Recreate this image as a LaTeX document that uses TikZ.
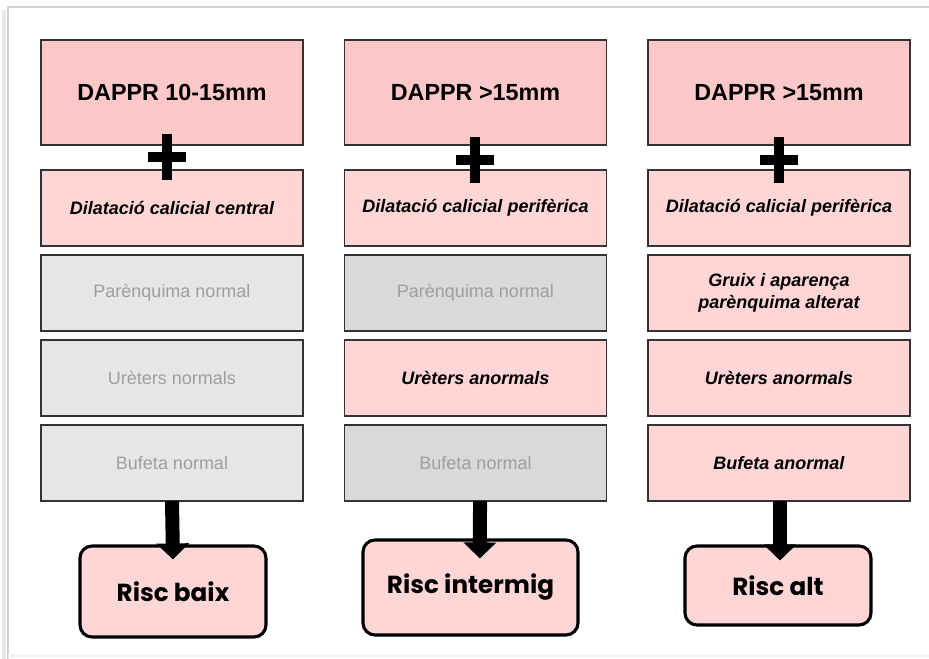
\documentclass[tikz,border=0pt]{standalone}
\usepackage{fontspec}
\setmainfont{Liberation Sans}
\newfontfamily\riscfont{Poppins}
\usetikzlibrary{positioning,arrows.meta}
\definecolor{headpink}{HTML}{FFC8C8}
\definecolor{rowpink}{HTML}{FFD6D6}
\definecolor{lightgrey}{HTML}{E6E6E6}
\definecolor{midgrey}{HTML}{D9D9D9}
\definecolor{greytext}{HTML}{9E9E9E}
\definecolor{frameline}{HTML}{D2D2D2}
\tikzset{x=0.75pt, y=-0.75pt, node distance=6.75pt,
  box/.style={draw=black!80, line width=1.1pt, outer sep=0pt, minimum width=196.5pt,
    minimum height=57pt, align=center, inner sep=2pt},
  head/.style={box, fill=headpink, minimum height=78.75pt,
    font=\bfseries\fontsize{17.5}{21}\selectfont},
  sign/.style={box, fill=rowpink, font=\bfseries\itshape\fontsize{13.5}{17}\selectfont},
  normal/.style={box, fill=lightgrey, text=greytext, font=\fontsize{13.5}{17}\selectfont},
  risc/.style={draw=black, line width=2.3pt, rounded corners=9pt, fill=rowpink,
    font=\riscfont\bfseries\fontsize{18.5}{22}\selectfont},
  plusbar/.style={line width=8pt},
  thick arrow/.style={line width=10.5pt, -{Triangle[width=24pt,length=12pt]}}}

\begin{document}
\begin{tikzpicture}
  \useasboundingbox (0,0) rectangle (929,659);
  % frame
  \draw[gray!18, line width=3pt] (4,10) -- (4,659);
  \draw[frameline, line width=1pt] (8,659) -- (8,7) -- (929,7);
  \draw[gray!12, line width=1pt] (8,656) -- (929,656);

  % column 1
  \node[head] (h1) at (172,92.5) {DAPPR 10-15mm};
  \node[sign] (d1) [below=18.75pt of h1] {Dilatació calicial central};
  \node[normal] (p1) [below=of d1] {Parènquima normal};
  \node[normal] (u1) [below=of p1] {Urèters normals};
  \node[normal] (b1) [below=of u1] {Bufeta normal};
  \node[risc, minimum width=139.5pt, minimum height=68.25pt] (r1) at (173,591.5) {Risc baix};

  % column 2
  \node[head] (h2) at (475.5,92.5) {DAPPR >15mm};
  \node[sign] (d2) [below=18.75pt of h2] {Dilatació calicial perifèrica};
  \node[normal, fill=midgrey] (p2) [below=of d2] {Parènquima normal};
  \node[sign] (u2) [below=of p2] {Urèters anormals};
  \node[normal, fill=midgrey] (b2) [below=of u2] {Bufeta normal};
  \node[risc, minimum width=161.25pt, minimum height=71.25pt] (r2) at (470.5,587.5) {Risc intermig};

  % column 3
  \node[head] (h3) at (779,92.5) {DAPPR >15mm};
  \node[sign] (d3) [below=18.75pt of h3] {Dilatació calicial perifèrica};
  \node[sign] (p3) [below=of d3] {Gruix i aparença\\parènquima alterat};
  \node[sign] (u3) [below=of p3] {Urèters anormals};
  \node[sign] (b3) [below=of u3] {Bufeta anormal};
  \node[risc, minimum width=139.5pt, minimum height=59.25pt] (r3) at (778,585.5) {Risc alt};

  % plus signs
  \coordinate (plus1) at (167,157);
  \coordinate (plus2) at (475,160);
  \coordinate (plus3) at (779,160);
  \foreach \p in {plus1,plus2,plus3}
    \draw[plusbar] ([yshift=17.6pt]\p) -- ([yshift=-17.6pt]\p)
                   ([xshift=-14.3pt]\p) -- ([xshift=14.3pt]\p);

  % arrows
  \draw[thick arrow] (b1.south) -- ([yshift=-11.25pt]r1.north);
  \draw[thick arrow] ([xshift=3.4pt]b2.south) -- ([xshift=7pt,yshift=-15pt]r2.north);
  \draw[thick arrow] ([xshift=0.75pt]b3.south) -- ([xshift=1.5pt,yshift=-12pt]r3.north);
\end{tikzpicture}
\end{document}
